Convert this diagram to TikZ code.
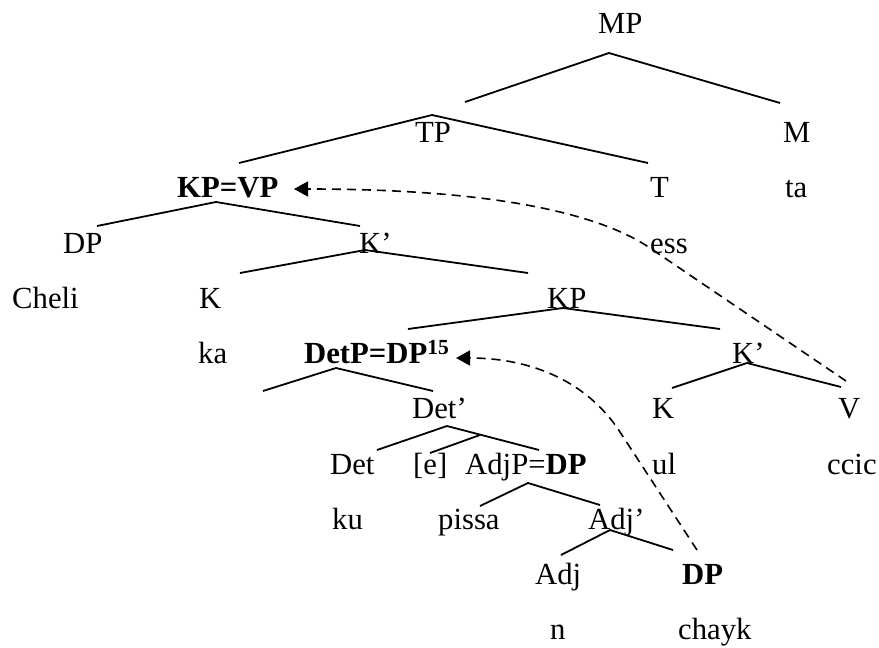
\documentclass[tikz,border=0pt]{standalone}
\usepackage{fontspec}
\setmainfont{Liberation Serif}
\usetikzlibrary{arrows.meta}
\begin{document}
\begin{tikzpicture}[x=1pt,y=-1pt,
  lbl/.style={anchor=base west, inner sep=0pt, font=\fontsize{30.7}{36}\selectfont},
  branch/.style={line width=1.8pt, line join=miter},
  move/.style={line width=1.6pt, dash pattern=on 9pt off 6pt, -{Triangle[length=14pt,width=15pt]}}]
\useasboundingbox (0,0) rectangle (879,648);
% labels
\node[lbl] (mp) at (598,33) {MP};
\node[lbl] (tp) at (415,142.5) {TP};
\node[lbl] (m) at (783,142.5) {M};
\node[lbl] (kpvp) at (177,197.5) {\textbf{KP=VP}};
\node[lbl] (t) at (650,197.5) {T};
\node[lbl] (ta) at (785,197.5) {ta};
\node[lbl] (dpa) at (63,253) {DP};
\node[lbl] (kbara) at (359,253) {K’};
\node[lbl] (ess) at (650,253) {ess};
\node[lbl] (cheli) at (12,308) {Cheli};
\node[lbl] (ka1) at (199,308) {K};
\node[lbl] (kp) at (547,308) {KP};
\node[lbl] (ka) at (198,363.5) {ka};
\node[lbl] (detp) at (304,363.5) {\textbf{DetP=DP\textsuperscript{15}}};
\node[lbl] (kbarb) at (732,363.5) {K’};
\node[lbl] (detbar) at (412,418.5) {Det’};
\node[lbl] (kb1) at (652,418.5) {K};
\node[lbl] (v) at (838,418.5) {V};
\node[lbl] (det) at (330,474) {Det};
\node[lbl] (e) at (413,474) {[e]};
\node[lbl] (adjp) at (465,474) {AdjP=\textbf{DP}};
\node[lbl] (ul) at (652,474) {ul};
\node[lbl] (ccic) at (827,474) {ccic};
\node[lbl] (ku) at (332,529) {ku};
\node[lbl] (pissa) at (438,529) {pissa};
\node[lbl] (adjbar) at (588,529) {Adj’};
\node[lbl] (adj) at (535,584) {Adj};
\node[lbl] (dpb) at (682,584) {\textbf{DP}};
\node[lbl] (n) at (550,639) {n};
\node[lbl] (chayk) at (678,639) {chayk};
% branch end points
\coordinate (mpL) at (465,102); \coordinate (mpA) at (609,53); \coordinate (mpR) at (780,103);
\coordinate (tpL) at (239,163); \coordinate (tpA) at (432,115); \coordinate (tpR) at (648,163);
\coordinate (kvL) at (97,226); \coordinate (kvA) at (216,202); \coordinate (kvR) at (360,226);
\coordinate (kaL) at (240,273); \coordinate (kaA) at (365,250); \coordinate (kaR) at (528,273);
\coordinate (kpL) at (408,329); \coordinate (kpA) at (563,308); \coordinate (kpR) at (720,329);
\coordinate (dtL) at (263,391); \coordinate (dtA) at (336,368); \coordinate (dtR) at (433,391);
\coordinate (kbL) at (672,388); \coordinate (kbA) at (747,363); \coordinate (kbR) at (841,387);
\coordinate (dbL) at (377,450); \coordinate (dbA) at (447,426); \coordinate (dbR) at (539,450);
\coordinate (dbM) at (480,435); \coordinate (dbE) at (430,453);
\coordinate (ajL) at (480,506); \coordinate (ajA) at (528,483); \coordinate (ajR) at (600,505);
\coordinate (abL) at (561,555); \coordinate (abA) at (610,530); \coordinate (abR) at (673,550);
% branches
\draw[branch] (mpL) -- (mpA) -- (mpR);
\draw[branch] (tpL) -- (tpA) -- (tpR);
\draw[branch] (kvL) -- (kvA) -- (kvR);
\draw[branch] (kaL) -- (kaA) -- (kaR);
\draw[branch] (kpL) -- (kpA) -- (kpR);
\draw[branch] (dtL) -- (dtA) -- (dtR);
\draw[branch] (kbL) -- (kbA) -- (kbR);
\draw[branch] (dbL) -- (dbA) -- (dbR);
\draw[branch] (dbM) -- (dbE);
\draw[branch] (ajL) -- (ajA) -- (ajR);
\draw[branch] (abL) -- (abA) -- (abR);
% movement arrows
\coordinate (vS) at (846,381); \coordinate (vB) at (650,248); \coordinate (vT) at (294,189);
\draw[move] (vS) -- (vB) .. controls (592,208.7) and (474.7,189) .. (vT);
\coordinate (dS) at (697,550); \coordinate (dB) at (620,432); \coordinate (dT) at (456,358);
\draw[move] (dS) -- (dB) .. controls (588,382.7) and (533.3,358) .. (dT);
\end{tikzpicture}
\end{document}
